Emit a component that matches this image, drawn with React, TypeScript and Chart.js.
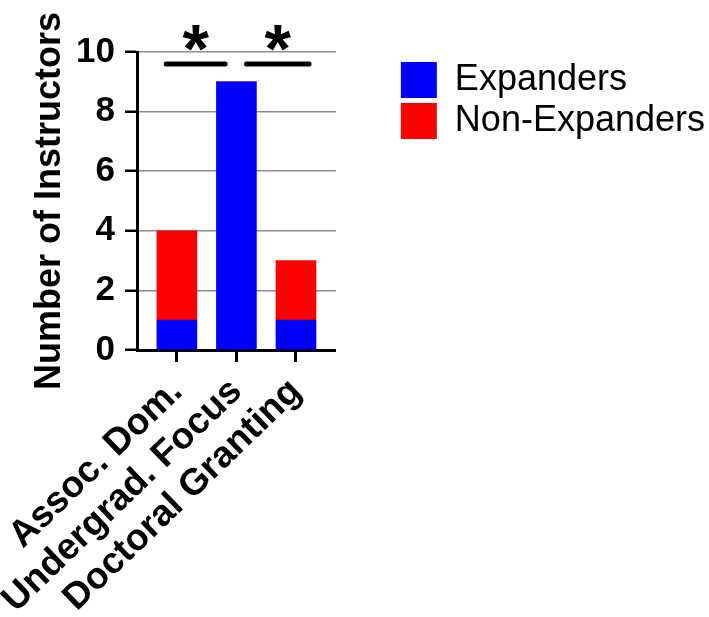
import React, { useEffect, useRef } from 'react';
import { Chart, registerables } from 'chart.js';

Chart.register(...registerables);

const FONT = "'Liberation Sans', Arial, Helvetica, sans-serif";

// Data
const categories = ['Assoc. Dom.', 'Undergrad. Focus', 'Doctoral Granting'];
const categoryPositions = [0, 1, 2];
const expanders = [1, 9, 1];
const nonExpanders = [3, 0, 2];
const seriesNames = ['Expanders', 'Non-Expanders'];
const yMin = 0;
const yMax = 10;
const yStep = 2;

// Significance annotations (in data units)
const sigStart = [-0.18, 1.17];
const sigEnd = [0.81, 2.22];
const sigLineY = [9.6, 9.6];
const sigStarY = [10.47, 10.47];
const sigLabel = ['*', '*'];

const sigPlugin = {
  id: 'sigMarks',
  afterDraw(chart: any) {
    const { ctx } = chart;
    const x = chart.scales.x;
    const y = chart.scales.y;
    ctx.save();
    ctx.strokeStyle = '#000';
    ctx.fillStyle = '#000';
    ctx.lineWidth = 5;
    ctx.lineCap = 'round';
    sigStart.forEach((s, i) => {
      const py = y.getPixelForValue(sigLineY[i]);
      ctx.beginPath();
      ctx.moveTo(x.getPixelForValue(s), py);
      ctx.lineTo(x.getPixelForValue(sigEnd[i]), py);
      ctx.stroke();
      const cx = x.getPixelForValue((s + sigEnd[i]) / 2);
      const cy = y.getPixelForValue(sigStarY[i]);
      ctx.font = `bold 68px ${FONT}`;
      ctx.textAlign = 'center';
      ctx.textBaseline = 'alphabetic';
      const m = ctx.measureText(sigLabel[i]);
      const base = cy + (m.actualBoundingBoxAscent - m.actualBoundingBoxDescent) / 2;
      ctx.fillText(sigLabel[i], cx, base);
    });
    ctx.restore();
  },
};

export default function App() {
  const ref = useRef<HTMLCanvasElement>(null);

  useEffect(() => {
    if (!ref.current) return;
    Chart.defaults.font.family = FONT;
    const chart = new Chart(ref.current, {
      type: 'bar',
      data: {
        datasets: [
          {
            label: seriesNames[0],
            data: categoryPositions.map((p, i) => ({ x: p, y: expanders[i] })),
            backgroundColor: '#0000ff',
            borderWidth: 0,
            barThickness: 40,
          },
          {
            label: seriesNames[1],
            data: categoryPositions.map((p, i) => ({ x: p, y: nonExpanders[i] })),
            backgroundColor: '#ff0000',
            borderWidth: 0,
            barThickness: 40,
          },
        ],
      },
      options: {
        animation: false,
        responsive: false,
        layout: { padding: { left: 0, top: 52, right: -6, bottom: 0 } },
        plugins: {
          tooltip: { enabled: false },
          legend: {
            position: 'right',
            align: 'start',
            maxWidth: 340,
            title: { display: true, text: '', font: { size: 5, lineHeight: 1 }, padding: 0 },
            labels: {
              boxWidth: 36,
              boxHeight: 36,
              padding: 5,
              color: '#000',
              font: { size: 36, weight: 'normal' },
            },
          },
        },
        scales: {
          x: {
            type: 'linear',
            min: -0.67,
            max: 2.67,
            stacked: true,
            offset: false,
            afterBuildTicks: (s: any) => {
              s.ticks = categoryPositions.map((v) => ({ value: v }));
            },
            ticks: {
              autoSkip: false,
              minRotation: 44,
              maxRotation: 44,
              padding: 8,
              color: '#000',
              font: { size: 37, weight: 'bold' },
              callback: (_v: any, i: number) => categories[i],
            },
            grid: {
              offset: false,
              drawOnChartArea: false,
              drawTicks: true,
              tickLength: 12,
              tickColor: '#000',
              tickWidth: 3,
            },
            border: { display: true, color: '#000', width: 3 },
            afterFit: (s: any) => {
              s.height = 267;
              s.paddingLeft = 0;
              s.paddingRight = 0;
            },
          },
          y: {
            min: yMin,
            max: yMax,
            stacked: true,
            ticks: {
              stepSize: yStep,
              padding: 10,
              color: '#000',
              font: { size: 35, weight: 'bold' },
            },
            grid: {
              color: '#8c8c8c',
              lineWidth: 1.5,
              drawTicks: true,
              tickLength: 12,
              tickColor: '#000',
              tickWidth: 2.5,
            },
            border: { display: true, color: '#000', width: 3 },
            title: {
              display: true,
              text: 'Number of Instructors',
              color: '#000',
              font: { size: 36, weight: 'bold' },
              padding: { top: 28, bottom: 0 },
            },
            afterFit: (s: any) => {
              s.width = 137;
            },
          },
          spacer: {
            type: 'linear',
            position: 'right',
            display: true,
            grid: { display: false },
            border: { display: false },
            ticks: { display: false },
            afterFit: (s: any) => {
              s.width = 60;
            },
          },
        },
      },
      plugins: [sigPlugin],
    } as any);
    return () => chart.destroy();
  }, []);

  return (
    <div style={{ position: 'absolute', left: 0, top: 0, width: 709, height: 617, background: '#fff' }}>
      <canvas ref={ref} width={709} height={617} style={{ display: 'block' }} />
    </div>
  );
}
